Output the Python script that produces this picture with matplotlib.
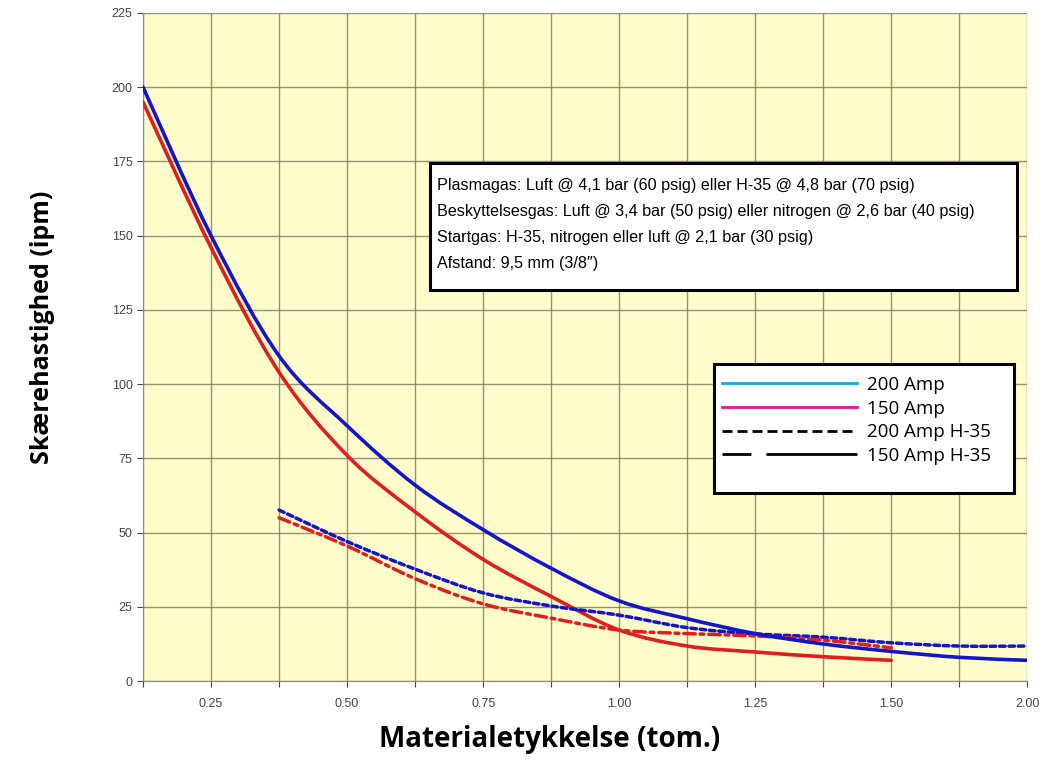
import matplotlib
matplotlib.use("Agg")
import matplotlib.pyplot as plt
from matplotlib.lines import Line2D
from matplotlib.path import Path
from matplotlib.patches import PathPatch, Rectangle

# thickness categories (inch) - evenly spaced on the chart like an Excel category axis
thickness = [0.1875, 0.25, 0.375, 0.5, 0.625, 0.75, 0.875, 1.0, 1.125, 1.25, 1.375, 1.5, 1.75, 2.0]
tick_labels = ["", "0.25", "", "0.50", "", "0.75", "", "1.00", "", "1.25", "", "1.50", "", "2.00"]

# cut speed (ipm), None where the series has no value
amp200 = [200, 150, 109.5, 86, 66, 51, 38, 27, 21, 16, 12.5, 10, 8, 7]
amp150 = [195, 146, 104, 76, 57, 41, 28.5, 17.2, 11.8, 9.8, 8.2, 7, None, None]
amp200_h35 = [None, None, 57.6, 47, 37.7, 29.7, 25.3, 22.2, 18, 15.9, 14.8, 12.9, 11.8, 11.8]
amp150_h35 = [None, None, 55, 45.5, 34.5, 26, 21.2, 17.2, 16, 15.2, 13.8, 11.2, None, None]

info_lines = [
    "Plasmagas: Luft @ 4,1 bar (60 psig) eller H-35 @ 4,8 bar (70 psig)",
    "Beskyttelsesgas: Luft @ 3,4 bar (50 psig) eller nitrogen @ 2,6 bar (40 psig)",
    "Startgas: H-35, nitrogen eller luft @ 2,1 bar (30 psig)",
    "Afstand: 9,5 mm (3/8\u2033)",
]
legend_labels = ["200 Amp", "150 Amp", "200 Amp H-35", "150 Amp H-35"]


def smooth_curve(ax, values, **kw):
    # draw an Excel-style smoothed line (bezier through the points)
    pts = [(i, v) for i, v in enumerate(values) if v is not None]
    verts = [pts[0]]
    codes = [Path.MOVETO]
    n = len(pts)
    for i in range(n - 1):
        p0 = pts[max(i - 1, 0)]
        p1 = pts[i]
        p2 = pts[i + 1]
        p3 = pts[min(i + 2, n - 1)]
        c1 = (p1[0] + (p2[0] - p0[0]) / 6, p1[1] + (p2[1] - p0[1]) / 6)
        c2 = (p2[0] - (p3[0] - p1[0]) / 6, p2[1] - (p3[1] - p1[1]) / 6)
        verts += [c1, c2, p2]
        codes += [Path.CURVE4] * 3
    ax.add_patch(PathPatch(Path(verts, codes), fill=False, capstyle="round", **kw))


fig = plt.figure(figsize=(10.44, 7.61), dpi=100)
ax = fig.add_axes([0.137, 0.105, 0.847, 0.878])
ax.set_facecolor("#fffccc")

blue = "#1414c8"
red = "#e01e1e"
smooth_curve(ax, amp200, ec=blue, lw=2.6, zorder=4)
smooth_curve(ax, amp150, ec=red, lw=2.6, zorder=3)
smooth_curve(ax, amp200_h35, ec=blue, lw=2.5, linestyle=(0, (1.6, 1.1)), zorder=3)
smooth_curve(ax, amp150_h35, ec=red, lw=2.5, linestyle=(0, (3.3, 1.4, 1.1, 1.4)), zorder=3)

ax.set_xlim(0, len(thickness) - 1)
ax.set_ylim(0, 225)
ax.set_xticks(range(len(thickness)))
ax.set_xticklabels(tick_labels)
ax.set_yticks(range(0, 226, 25))
ax.tick_params(labelsize=9, colors="#444444", length=4, width=0.8)
ax.tick_params(axis="x", pad=8)
for lab in ax.get_xticklabels() + ax.get_yticklabels():
    lab.set_family(["Liberation Sans", "DejaVu Sans"])
ax.grid(True, color="#7a7a60", lw=1.0, alpha=0.8)
ax.set_axisbelow(True)
for side in ["top", "right"]:
    ax.spines[side].set_visible(False)
for side in ["left", "bottom"]:
    ax.spines[side].set_color("#8a8a80")

ax.set_ylabel("Skærehastighed (ipm)", fontsize=18, fontweight="bold",
              family=["Open Sans", "DejaVu Sans"])
ax.set_xlabel("Materialetykkelse (tom.)", fontsize=20, fontweight="bold",
              family=["Open Sans", "DejaVu Sans"])
ax.yaxis.set_label_coords(-0.1, 0.53)
ax.xaxis.set_label_coords(0.46, -0.066)

# info box
ax.add_patch(Rectangle((0.3247, 0.5853), 0.664, 0.190, transform=ax.transAxes,
                       fc="white", ec="black", lw=2.2, zorder=6))
for k, line in enumerate(info_lines):
    ax.text(0.3326, 0.741 - k * 0.0385, line, transform=ax.transAxes,
            fontsize=11.6, family=["Liberation Sans", "DejaVu Sans"],
            va="center", ha="left", zorder=7)

# legend box
ax.add_patch(Rectangle((0.646, 0.2814), 0.3393, 0.1932, transform=ax.transAxes,
                       fc="white", ec="black", lw=2.2, zorder=6))
handles = [
    Line2D([], [], color="#1aa6e0", lw=2),
    Line2D([], [], color="#e8158c", lw=2),
    Line2D([], [], color="black", lw=2, linestyle=(0, (3.6, 1.8))),
    Line2D([], [], color="black", lw=2, linestyle=(0, (10.4, 5.4, 40, 0))),
]
leg = ax.legend(handles, legend_labels, loc="upper left", bbox_to_anchor=(0.655, 0.4566),
                handlelength=7.2, handletextpad=0.5, labelspacing=0.3,
                frameon=False, borderpad=0, borderaxespad=0,
                prop={"family": ["Open Sans", "DejaVu Sans"], "size": 13.5})
leg.set_zorder(7)

fig.savefig("out.png", dpi=100)
